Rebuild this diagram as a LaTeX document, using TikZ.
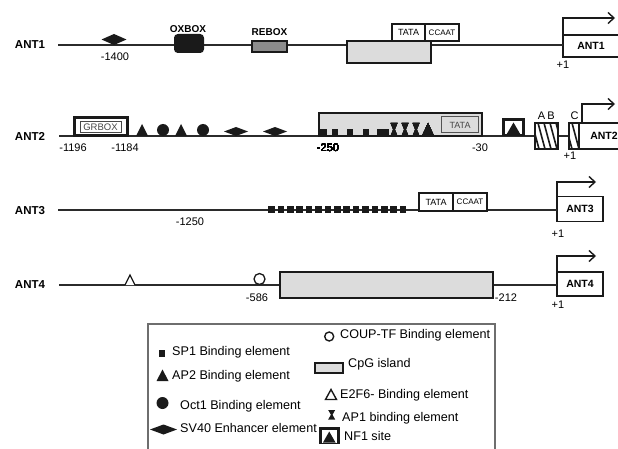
\documentclass[tikz,border=0pt]{standalone}
\usepackage{fontspec}
\setmainfont{Liberation Sans}
\usetikzlibrary{arrows.meta,calc}
\definecolor{ink}{HTML}{1A1A1A}
\definecolor{dnaline}{HTML}{2B2B2B}
\definecolor{cpgfill}{HTML}{DCDCDC}
\definecolor{reboxfill}{HTML}{8C8C8C}
\definecolor{legline}{HTML}{6E6E6E}
\definecolor{tagtext}{HTML}{454545}
\newcommand{\fsz}[1]{\fontsize{#1}{#1}\selectfont}
\newcommand{\sqsite}[2]{\fill[ink] ({#1-3.3},{#2-6.6}) rectangle ({#1+3.3},{#2});}
\newcommand{\trisite}[3]{\fill[ink] ({#1-6},{#2}) -- ({#1},{#2-#3}) -- ({#1+6},{#2}) -- cycle;}
\newcommand{\dotsite}[2]{\fill[ink] ({#1},{#2-6}) circle (6);}
\newcommand{\diasite}[4]{\fill[ink] ({#1-#3/2},{#2}) -- ({#1},{#2-#4/2}) -- ({#1+#3/2},{#2}) -- ({#1},{#2+#4/2}) -- cycle;}
\newcommand{\hoursite}[3]{\fill[ink] ({#1-3.5},{#2}) -- ({#1+3.5},{#2}) -- ({#1+0.8},{#2-#3/2}) -- ({#1+3.5},{#2-#3}) -- ({#1-3.5},{#2-#3}) -- ({#1-0.8},{#2-#3/2}) -- cycle;}
\newcommand{\nfsite}[4]{%
  \fill[ink] ({#1},{#2}) rectangle ({#1+#3},{#2+#4});
  \fill[white] ({#1+3},{#2+3}) rectangle ({#1+#3-3},{#2+#4-1.5});
  \fill[ink] ({#1+4.5},{#2+#4-1.5}) -- ({#1+#3/2},{#2+4.5}) -- ({#1+#3-4.5},{#2+#4-1.5}) -- cycle;}
\newcommand{\hatchbox}[2]{%
  \begin{scope}
    \clip (#1.south west) rectangle (#1.north east);
    \foreach \dx in {#2}
      \draw[ink, line width=1.6pt] ($(#1.north west)+(\dx,0)$) -- ++(7,26);
  \end{scope}
  \draw[ink, line width=2pt] (#1.south west) rectangle (#1.north east);}

\begin{document}
\begin{tikzpicture}[x=1pt,y=-1pt,
  dna/.style={draw=dnaline, line width=1.8pt},
  rowlab/.style={font=\fsz{11.5}\bfseries, inner sep=0pt},
  numlab/.style={font=\fsz{11}, inner sep=0pt},
  boxlab/.style={font=\fsz{10}\bfseries, inner sep=0pt},
  boxed/.style={draw=ink, line width=2pt, inner sep=0pt, outer sep=0pt},
  cpg/.style={boxed, fill=cpgfill},
  tagbox/.style={boxed, line width=1.8pt, fill=white, font=\fsz{9}, minimum height=17},
  genebox/.style={boxed, line width=1.8pt, fill=white, font=\fsz{10.5}\bfseries},
  tss/.style={draw=ink, line width=1.4pt, -{Straight Barb[length=6pt,width=11pt]}},
  legtxt/.style={font=\fsz{12.6}, anchor=base west, inner sep=0pt}]
\useasboundingbox (0,0) rectangle (618,449);

% ANT1
\node[rowlab] (row1) at (30,45) {ANT1};
\coordinate (s1) at (58,45);
\node[genebox, anchor=north west, minimum width=56, minimum height=22] (g1) at (563,35) {ANT1};
\draw[dna] (s1) -- (s1 -| g1.west);
\diasite{114}{39.5}{25}{11}
\node[numlab] (n1400) at (115,57) {-1400};
\node[boxed, fill=ink, rounded corners=3pt, anchor=north west, minimum width=28, minimum height=17] (oxbox) at (175,35) {};
\node[boxlab] (oxlab) at (188,29.5) {OXBOX};
\node[boxed, line width=1.6pt, fill=reboxfill, anchor=north west, minimum width=35, minimum height=11] (rebox) at (252,41) {};
\node[boxlab] (relab) at (269.5,32.5) {REBOX};
\node[cpg, anchor=north west, minimum width=84, minimum height=22] (cpg1) at (347,41) {};
\node[tagbox, anchor=south west, minimum width=33] (tata1) at (392,41) {TATA};
\node[tagbox, anchor=south west, minimum width=34, font=\fsz{8}] (ccaat1) at (tata1.south east) {CCAAT};
\node[numlab] (plus1) at (563,65) {+1};
\coordinate (tip1) at (615,18);
\draw[tss] (g1.north west) |- (tip1);

% ANT2
\node[rowlab] (row2) at (30,136) {ANT2};
\coordinate (s2) at (59,136);
\node[genebox, anchor=west, minimum width=50, minimum height=26] (g2) at (579,136) {ANT2};
\draw[dna] (s2) -- (s2 -| g2.west);
\node[boxed, line width=3pt, fill=white, anchor=north west, minimum width=53, minimum height=18] (grbox) at (74,118) {};
\node[draw=ink!80, line width=0.8pt, fill=white, inner sep=0pt, minimum width=41, minimum height=11, font=\fsz{9.5}, text=tagtext] (grlab) at (grbox.center) {GRBOX};
\node[numlab] (n1196) at (73,148) {-1196};
\node[numlab] (n1184) at (125,148) {-1184};
\trisite{142}{136}{12}
\dotsite{163}{136}
\trisite{181}{136}{12}
\dotsite{203}{136}
\diasite{236}{131.5}{24}{9}
\diasite{275}{131.5}{24}{9}
\node[cpg, anchor=south west, minimum width=163, minimum height=23] (cpg2) at (319,136) {};
\node[draw=ink!75, line width=0.9pt, fill=cpgfill, inner sep=0pt, anchor=north east, minimum width=37, minimum height=16, font=\fsz{9}, text=tagtext] (tata2) at (479,116.5) {TATA};
\foreach \x in {323.5,335,350,366,380,386}
  \sqsite{\x}{136}
\foreach \x in {394,405,416}
  \hoursite{\x}{136}{13}
\trisite{428}{136}{13}
\node[numlab] (n250) at (328,148) {-250};
\node[numlab] (n30) at (480,148) {-30};
\nfsite{502}{118}{23}{18}
\node[boxed, fill=white, anchor=west, minimum width=23, minimum height=26] (abbox) at (535,136) {};
\hatchbox{abbox}{-3,3,9,15,21}
\node[boxed, fill=white, anchor=west, minimum width=10, minimum height=26] (cbox) at (569,136) {};
\hatchbox{cbox}{-4,3}
\node[numlab] (labA) at (541.5,115.5) {A};
\node[numlab] (labB) at (551,115.5) {B};
\node[numlab] (labC) at (574.5,115.5) {C};
\node[numlab] (plus2) at (570,156) {+1};
\coordinate (tip2) at (615,104);
\draw[tss] ($(g2.north west)+(3,0)$) |- (tip2);

% ANT3
\node[rowlab] (row3) at (30,211) {ANT3};
\coordinate (s3) at (58,210);
\node[genebox, anchor=west, minimum width=46, minimum height=25] (g3) at (557,209) {ANT3};
\draw[dna] (s3) -- (s3 -| g3.west);
\node[numlab] (n1250) at (190,222) {-1250};
\foreach \i in {0,...,14}
  \sqsite{271.5+\i*9.4}{212.5}
\node[tagbox, anchor=south west, minimum width=34, minimum height=18] (tata3) at (419,211) {TATA};
\node[tagbox, anchor=south west, minimum width=34, minimum height=18, font=\fsz{8}] (ccaat3) at (tata3.south east) {CCAAT};
\node[numlab] (plus3) at (558,234) {+1};
\coordinate (tip3) at (596,182);
\draw[tss] (g3.north west) |- (tip3);

% ANT4
\node[rowlab] (row4) at (30,285) {ANT4};
\coordinate (s4) at (59,285);
\node[genebox, anchor=west, minimum width=46, minimum height=24] (g4) at (557,284) {ANT4};
\draw[dna] (s4) -- (s4 -| g4.west);
\draw[ink, line width=1.3pt, fill=white] (125,285) -- (130,275) -- (135,285);
\draw[ink, line width=1.3pt, fill=white] (259.5,279) circle (5.5);
\node[numlab] (n586) at (257,298) {-586};
\node[cpg, anchor=west, minimum width=213, minimum height=26] (cpg4) at (280,285) {};
\node[numlab] (n212) at (506,298) {-212};
\node[numlab] (plus4) at (558,305) {+1};
\coordinate (tip4) at (596,256);
\draw[tss] (g4.north west) |- (tip4);

% legend
\node[draw=legline, line width=1.3pt, outer sep=0pt, inner sep=0pt, anchor=north west, minimum width=347, minimum height=140] (legend) at (148,324) {};
\sqsite{162}{356.5}
\node[legtxt] (legsp1) at (172,355) {SP1 Binding element};
\trisite{162.5}{381}{11.5}
\node[legtxt] (legap2) at (172,379) {AP2 Binding element};
\dotsite{162.5}{409}
\node[legtxt] (legoct) at (180,409) {Oct1 Binding element};
\diasite{163.5}{429.5}{27}{10}
\node[legtxt] (legsv) at (180,432.5) {SV40 Enhancer element};
\draw[ink, line width=1.4pt] (329.2,336.5) circle (4.5);
\node[legtxt] (legcoup) at (340,338.5) {COUP-TF Binding element};
\node[cpg, anchor=north west, minimum width=28, minimum height=10.5] (legcpg) at (315,362.5) {};
\node[legtxt] (legcpgt) at (348,367.5) {CpG island};
\draw[ink, line width=1.4pt, fill=white] (325.5,399.5) -- (331,389.5) -- (336.5,399.5) -- cycle;
\node[legtxt] (lege2f) at (340,398.5) {E2F6- Binding element};
\hoursite{331.7}{419.5}{9.5}
\node[legtxt] (legap1) at (342,421) {AP1 binding element};
\nfsite{318.5}{427}{21.5}{17}
\node[legtxt] (legnf1) at (344,440) {NF1 site};

\end{tikzpicture}
\end{document}
